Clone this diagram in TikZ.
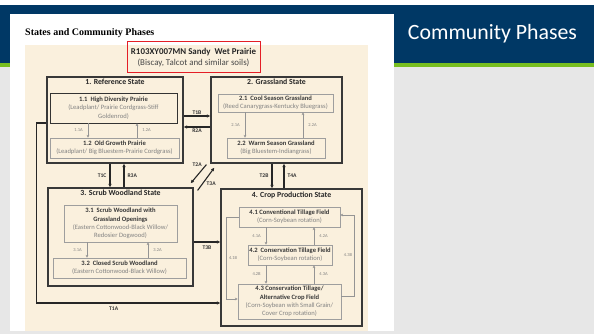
\documentclass[tikz,border=0pt]{standalone}
\usepackage{fontspec}
\setmainfont{Carlito}
\newfontfamily\reportserif{Liberation Serif}
\usepackage{tikz}
\usetikzlibrary{arrows.meta,positioning}
\definecolor{slideblue}{RGB}{0,56,101}
\definecolor{slidegreen}{RGB}{120,190,32}
\definecolor{slidegrey}{RGB}{231,231,231}
\definecolor{paper}{RGB}{250,240,221}
\definecolor{phasegrey}{RGB}{130,130,130}
\definecolor{headred}{RGB}{228,30,38}
\newcommand{\phasetitle}[1]{{\bfseries\color{black!78}#1}}
\tikzset{
  statebox/.style={
    draw=black!78,
    line width=1.2pt,
    inner sep=0pt
  },
  statetitle/.style={
    font=\fontsize{7.8}{9}\selectfont\bfseries,
    text=black!85,
    inner sep=0pt
  },
  phasebox/.style={
    draw=black!38,
    line width=0.7pt,
    align=center,
    inner sep=0pt,
    font=\fontsize{6.6}{8.2}\selectfont,
    text=phasegrey
  },
  keybox/.style={
    phasebox,
    draw=black!80,
    line width=0.8pt
  },
  transflow/.style={-{Latex[length=3.5pt,width=3.5pt]},draw=black!85,line width=1.1pt},
  phaseflow/.style={-{Stealth[length=2.8pt,width=2.8pt]},draw=black!42,line width=0.7pt},
  translabel/.style={font=\fontsize{5.6}{6}\selectfont\bfseries,text=black!80,inner sep=1pt},
  phaselabel/.style={font=\fontsize{4.5}{5}\selectfont,text=phasegrey,inner sep=1pt}
}
\begin{document}
\begin{tikzpicture}[x=1pt,y=-1pt]
\useasboundingbox (0,0) rectangle (594,334);
\fill[slidegrey] (0,0) rectangle (594,334);
\fill[white] (0,0) rectangle (594,5);
\fill[slideblue] (0,5) rectangle (594,63);
\fill[slidegreen] (0,63) rectangle (594,67);
\fill[white] (10,14) rectangle (394,331);
\fill[paper] (25,45) rectangle (368,331);
\node[anchor=base west,font=\reportserif\bfseries\fontsize{10}{12}\selectfont,inner sep=0pt] (slidehead) at (25,36) {States and Community Phases};
\node[anchor=base,text=white,font=\fontsize{21.8}{24}\selectfont,inner sep=0pt] (phasehead) at (492.5,40) {Community Phases};
\node[draw=headred,line width=1pt,minimum width=133pt,minimum height=31pt,align=center,font=\fontsize{8.9}{11}\selectfont,text=black!72,inner sep=0pt] (site) at (193.5,57.5) {\textbf{\color{black!85}R103XY007MN Sandy\ \ Wet Prairie}\\(Biscay, Talcot and similar soils)};
\node[statebox,minimum width=136pt,minimum height=86pt] (s1) at (115,120) {};
\node[statebox,minimum width=131pt,minimum height=86pt] (s2) at (276.5,120) {};
\node[statebox,minimum width=145pt,minimum height=98pt] (s3) at (120.5,237) {};
\node[statebox,minimum width=141pt,minimum height=137pt] (s4) at (291.5,257.5) {};
\node[statetitle,below=2pt of s1.north] (t1) {1. Reference State};
\node[statetitle,below=2pt of s2.north] (t2) {2. Grassland State};
\node[statetitle,below=2pt of s3.north] (t3) {3. Scrub Woodland State};
\node[statetitle,below=3pt of s4.north] (t4) {4. Crop Production State};
\node[keybox,minimum width=127pt,minimum height=30pt] (p11) at (113.5,108) {\phasetitle{1.1\ \ High Diversity Prairie}\\(Leadplant/ Prairie Cordgrass-Stiff\\Goldenrod)};
\node[phasebox,minimum width=129pt,minimum height=20pt] (p12) at (114.5,148) {\phasetitle{1.2\ \ Old Growth Prairie}\\(Leadplant/ Big Bluestem-Prairie Cordgrass)};
\node[phasebox,minimum width=115pt,minimum height=18pt] (p21) at (275.5,103) {\phasetitle{2.1\ \ Cool Season Grassland}\\(Reed Canarygrass-Kentucky Bluegrass)};
\node[phasebox,minimum width=98pt,minimum height=20pt] (p22) at (276,148) {\phasetitle{2.2\ \ Warm Season Grassland}\\(Big Bluestem-Indiangrass)};
\node[phasebox,minimum width=113pt,minimum height=37pt] (p31) at (120.5,223.5) {\phasetitle{3.1\ \ Scrub Woodland with}\\\phasetitle{Grassland Openings}\\(Eastern Cottonwood-Black Willow/\\Redosier Dogwood)};
\node[phasebox,minimum width=133pt,minimum height=20pt] (p32) at (119.5,268) {\phasetitle{3.2\ \ Closed Scrub Woodland}\\(Eastern Cottonwood-Black Willow)};
\node[phasebox,minimum width=101pt,minimum height=20pt] (p41) at (289.5,217) {\phasetitle{4.1 Conventional Tillage Field}\\(Corn-Soybean rotation)};
\node[phasebox,minimum width=84pt,minimum height=20pt] (p42) at (290,255) {\phasetitle{4.2\ \ Conservation Tillage Field}\\(Corn-Soybean rotation)};
\node[phasebox,minimum width=103pt,minimum height=35pt] (p43) at (289.5,301.5) {\phasetitle{4.3 Conservation Tillage/}\\\phasetitle{Alternative Crop Field}\\(Corn-Soybean with Small Grain/\\Cover Crop rotation)};
\draw[phaseflow] ([xshift=-25.5pt]p11.south) -- ([xshift=-25.5pt]p11.south |- p12.north) node[phaselabel,midway,left=4pt] {1.1A};
\draw[phaseflow] ([xshift=23.5pt]p11.south |- p12.north) -- ([xshift=23.5pt]p11.south) node[phaselabel,midway,right=4pt] {1.2A};
\draw[phaseflow] ([xshift=-30.5pt]p21.south) -- ([xshift=-30.5pt]p21.south |- p22.north) node[phaselabel,midway,left=4pt] {2.1A};
\draw[phaseflow] ([xshift=27.5pt]p21.south |- p22.north) -- ([xshift=27.5pt]p21.south) node[phaselabel,midway,right=4pt] {2.2A};
\draw[phaseflow] ([xshift=-33.5pt]p31.south) -- ([xshift=-33.5pt]p31.south |- p32.north) node[phaselabel,midway,left=4pt] {3.1A};
\draw[phaseflow] ([xshift=27.5pt]p31.south |- p32.north) -- ([xshift=27.5pt]p31.south) node[phaselabel,midway,right=4pt] {3.2A};
\draw[phaseflow] ([xshift=-23.5pt]p41.south) -- ([xshift=-23.5pt]p41.south |- p42.north) node[phaselabel,midway,left=4pt] {4.1A};
\draw[phaseflow] ([xshift=24.5pt]p41.south |- p42.north) -- ([xshift=24.5pt]p41.south) node[phaselabel,midway,right=4pt] {4.2A};
\draw[phaseflow] ([xshift=-24pt]p42.south) -- ([xshift=-24pt]p42.south |- p43.north) node[phaselabel,midway,left=4pt] {4.2B};
\draw[phaseflow] ([xshift=24pt]p42.south |- p43.north) -- ([xshift=24pt]p42.south) node[phaselabel,midway,right=4pt] {4.3A};
\draw[phaseflow] (p41.west) -- ++(-12,0) |- ([yshift=2.5pt]p43.west) node[phaselabel,pos=0.25,right=1pt] {4.1B};
\draw[phaseflow] ([yshift=5.5pt]p43.east) -- ++(13,0) |- ([yshift=2pt]p41.east) node[phaselabel,pos=0.25,left=1pt] {4.3B};
\draw[transflow] ([yshift=4pt]s1.east) -- ([yshift=4pt]s1.east -| s2.west) node[translabel,midway,above] {T1B};
\draw[transflow] ([yshift=-7pt]s2.west) -- ([yshift=-7pt]s2.west -| s1.east) node[translabel,midway,below] {R2A};
\draw[transflow] ([xshift=-5pt]s1.south) -- ([xshift=-5pt]s1.south |- s3.north) node[translabel,midway,left=2pt] {T1C};
\draw[transflow] ([xshift=9pt]s1.south |- s3.north) -- ([xshift=9pt]s1.south) node[translabel,midway,right=2pt] {R3A};
\draw[transflow] ([xshift=-4.5pt]s2.south) -- ([xshift=-4.5pt]s2.south |- s4.north) node[translabel,midway,left=2pt] {T2B};
\draw[transflow] ([xshift=7.5pt]s2.south |- s4.north) -- ([xshift=7.5pt]s2.south) node[translabel,midway,right=2pt] {T4A};
\draw[transflow] ([shift={(-4,1)}]s2.south west) -- ([shift={(-3,-4)}]s3.north east) node[translabel,pos=0.2,above left=0pt] {T2A};
\draw[transflow] ([shift={(4,3)}]s3.north east) -- ([shift={(4,4)}]s2.south west) node[translabel,pos=0.45,below right=0pt] {T3A};
\draw[transflow] ([yshift=-5pt]s3.east) -- ([yshift=-5pt]s3.east -| s4.west) node[translabel,midway,below=2pt] {T3B};
\draw[transflow] ([yshift=-3pt]s1.west) -- ++(-10,0) |- ([yshift=-45.5pt]s4.west) node[translabel,pos=0.71,below=2pt] {T1A};
\end{tikzpicture}
\end{document}
